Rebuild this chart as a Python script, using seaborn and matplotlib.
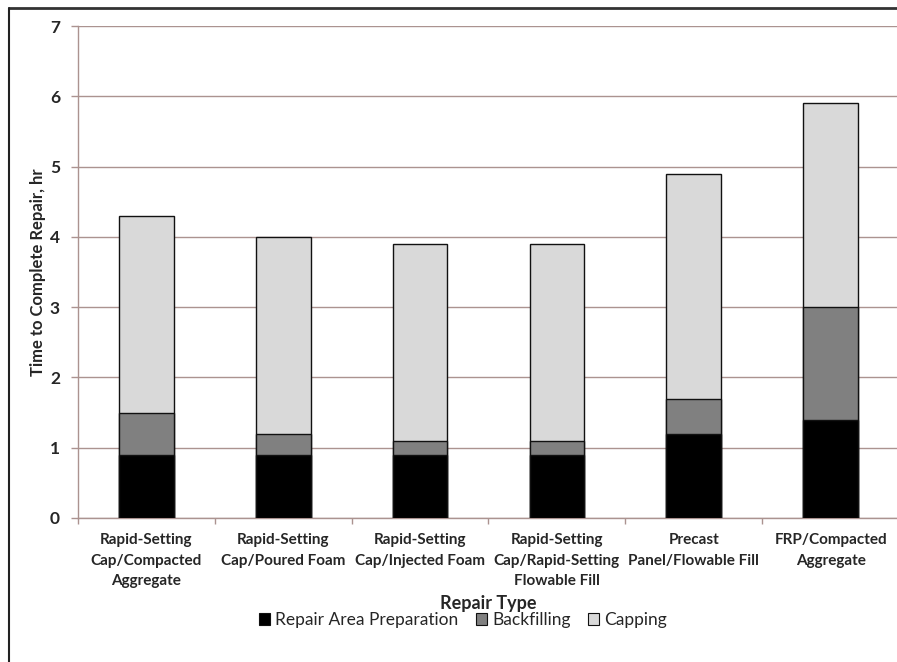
import matplotlib
matplotlib.use("Agg")
import matplotlib.pyplot as plt
from matplotlib.lines import Line2D
from matplotlib.patches import Patch
import numpy as np
import pandas as pd
import seaborn as sns

# Repair types and the time (hr) spent in each stage
repair_types = [
    "Rapid-Setting\nCap/Compacted\nAggregate",
    "Rapid-Setting\nCap/Poured Foam",
    "Rapid-Setting\nCap/Injected Foam",
    "Rapid-Setting\nCap/Rapid-Setting\nFlowable Fill",
    "Precast\nPanel/Flowable Fill",
    "FRP/Compacted\nAggregate",
]
prep_hr = [0.9, 0.9, 0.9, 0.9, 1.2, 1.4]
backfill_hr = [0.6, 0.3, 0.2, 0.2, 0.5, 1.6]
capping_hr = [2.8, 2.8, 2.8, 2.8, 3.2, 2.9]
stage_names = ["Repair Area Preparation", "Backfilling", "Capping"]
y_ticks = [0, 1, 2, 3, 4, 5, 6, 7]

sns.set_theme(style="white")
plt.rcParams["font.family"] = ["Lato", "DejaVu Sans"]

df = pd.DataFrame({
    "type": repair_types,
    "prep": prep_hr,
    "backfill": backfill_hr,
    "capping": capping_hr,
})
df["lvl1"] = df["prep"]
df["lvl2"] = df["prep"] + df["backfill"]
df["lvl3"] = df["lvl2"] + df["capping"]

fill_colors = ["#000000", "#808080", "#d9d9d9"]
grid_color = "#ab9390"

fig = plt.figure(figsize=(8.97, 6.62), dpi=100)
ax = fig.add_axes([78 / 897, 1 - 518 / 662, (899 - 78) / 897, (518 - 26) / 662])

# stacked bars: draw cumulative totals from the top stage downward
for col, color in zip(["lvl3", "lvl2", "lvl1"], fill_colors[::-1]):
    sns.barplot(data=df, x="type", y=col, color=color, width=0.4,
                edgecolor="#111111", linewidth=1.0, saturation=1, ax=ax, zorder=3)

ax.set_ylim(0, 7)
ax.set_xlim(-0.5, 5.5)
ax.set_yticks(y_ticks)
ax.yaxis.grid(True, color=grid_color, linewidth=1.0, zorder=0)
ax.set_axisbelow(True)

for side in ["top", "right"]:
    ax.spines[side].set_visible(False)
for side in ["left", "bottom"]:
    ax.spines[side].set_color(grid_color)
    ax.spines[side].set_linewidth(1.0)

ax.tick_params(axis="y", which="major", left=True, length=5, width=1.0,
               color=grid_color, pad=8, labelsize=12.5)
ax.set_xticks(np.arange(len(repair_types)))
ax.set_xticklabels(repair_types, fontsize=11, fontweight="bold", linespacing=1.58)
ax.tick_params(axis="x", which="major", bottom=False, pad=5)
ax.set_xticks(np.arange(-0.5, len(repair_types), 1.0), minor=True)
ax.tick_params(axis="x", which="minor", bottom=True, length=4, width=1.0,
               color=grid_color)
for lab in ax.get_yticklabels():
    lab.set_fontweight("bold")

ax.set_ylabel("Time to Complete Repair, hr", fontsize=12, fontweight="bold",
              labelpad=3)
ax.set_xlabel("Repair Type", fontsize=13, fontweight="bold")
ax.xaxis.set_label_coords(0.5, (518 - 603) / 492)
ax.xaxis.label.set_va("center")

handles = [Patch(facecolor=c, edgecolor="#111111", linewidth=0.8) for c in fill_colors]
fig.legend(handles, stage_names, loc="center", bbox_to_anchor=(463 / 897, 1 - 620 / 662),
           ncol=3, frameon=False, fontsize=12.5, handlelength=0.65, handleheight=0.7,
           handletextpad=0.3, columnspacing=1.0, borderpad=0.2)

# outer frame
fig.add_artist(Line2D([9 / 897, 1.0], [1 - 8 / 662, 1 - 8 / 662], color="#333333",
                      linewidth=2.0, transform=fig.transFigure))
fig.add_artist(Line2D([9 / 897, 9 / 897], [0.0, 1 - 8 / 662], color="#222222",
                      linewidth=1.5, transform=fig.transFigure))

fig.savefig("out.png", dpi=100)
